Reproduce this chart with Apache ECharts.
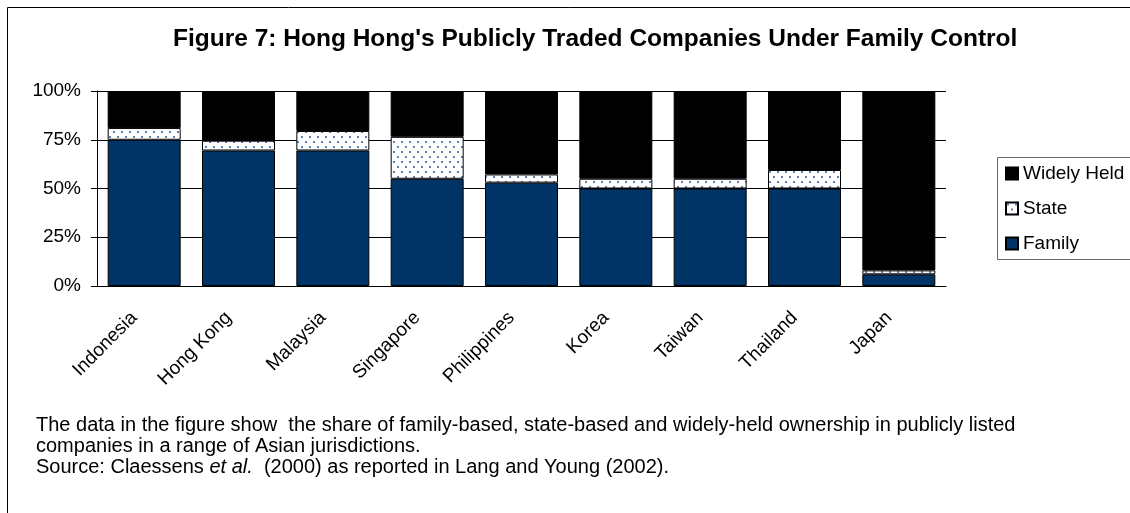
<!DOCTYPE html>
<html>
<head>
<meta charset="utf-8">
<title>Figure 7</title>
<script src="https://cdn.jsdelivr.net/npm/echarts@6/dist/echarts.min.js"></script>
<style>
  html, body { margin: 0; padding: 0; background: #fff; }
  #chart { width: 1130px; height: 513px; }
</style>
</head>
<body>
<div id="chart"></div>
<script>
// data (share of listed companies, %)
const categories = ['Indonesia', 'Hong Kong', 'Malaysia', 'Singapore', 'Philippines', 'Korea', 'Taiwan', 'Thailand', 'Japan']
const familyShare = [75, 69.5, 69.5, 55, 53, 50, 50, 50, 6]
const stateShare = [6, 5, 10, 21.5, 4.2, 5, 5, 9.5, 2]
const widelyHeldShare = [19, 25.5, 20.5, 23.5, 42.8, 45, 45, 40.5, 92]
const yTicks = [0, 25, 50, 75, 100]

const titleText = "Figure 7: Hong Hong's Publicly Traded Companies Under Family Control"
const noteLines = [
  'The data in the figure show  the share of family-based, state-based and widely-held ownership in publicly listed',
  'companies in a range of Asian jurisdictions.'
]

const FONT = '"Liberation Sans", Arial, sans-serif'

// dotted fill used for the State segments
function dotPattern() {
  const c = document.createElement('canvas')
  c.width = 8
  c.height = 10
  const ctx = c.getContext('2d')
  ctx.fillStyle = '#fff'
  ctx.fillRect(0, 0, 8, 10)
  ctx.fillStyle = '#5f82b4'
  ctx.fillRect(1, 1, 2, 2)
  ctx.fillRect(5, 6, 2, 2)
  return c
}

const chart = echarts.init(document.getElementById('chart'))

function barSeries(name, data, color) {
  return {
    name: name,
    type: 'bar',
    stack: 'total',
    barWidth: 73,
    data: data,
    itemStyle: {
      color: color,
      borderColor: '#000',
      borderWidth: 1
    },
    emphasis: { disabled: true },
    animation: false
  }
}

chart.setOption({
  animation: false,
  title: {
    text: titleText,
    left: 168,
    top: 22,
    textStyle: { fontFamily: FONT, fontSize: 24.5, fontWeight: 'bold', color: '#000' }
  },
  grid: { left: 97, right: 184, top: 91, bottom: 227 },
  legend: {
    orient: 'vertical',
    left: 1000,
    top: 159,
    itemWidth: 12,
    itemHeight: 12,
    itemGap: 16,
    icon: 'rect',
    data: ['Widely Held', 'State', 'Family'],
    textStyle: { fontFamily: FONT, fontSize: 19, color: '#000' }
  },
  xAxis: {
    type: 'category',
    data: categories,
    axisLine: { lineStyle: { color: '#000', width: 1 } },
    axisTick: { length: 6, lineStyle: { color: '#000' } },
    axisLabel: {
      rotate: 45,
      margin: 19,
      padding: [0, 14, 0, 0],
      interval: 0,
      fontFamily: FONT,
      fontSize: 19,
      color: '#000'
    }
  },
  yAxis: {
    type: 'value',
    min: yTicks[0],
    max: yTicks[yTicks.length - 1],
    interval: 25,
    axisLine: { show: true, lineStyle: { color: '#000', width: 1 } },
    axisTick: { show: true, length: 6, lineStyle: { color: '#000' } },
    axisLabel: {
      formatter: '{value}%',
      margin: 16,
      fontFamily: FONT,
      fontSize: 19,
      color: '#000'
    },
    splitLine: { lineStyle: { color: '#000', width: 1 } }
  },
  graphic: [
    {
      type: 'rect',
      shape: { x: 7.5, y: 7.5, width: 1200, height: 700 },
      style: { fill: 'none', stroke: '#000', lineWidth: 1 },
      silent: true
    },
    {
      type: 'rect',
      shape: { x: 997.5, y: 157.5, width: 200, height: 102 },
      style: { fill: 'none', stroke: '#666', lineWidth: 1 },
      silent: true
    },
    {
      type: 'text',
      left: 36,
      top: 415,
      style: {
        text: noteLines.join('\n'),
        fontFamily: FONT,
        fontSize: 20,
        lineHeight: 21,
        fill: '#000'
      }
    },
    {
      type: 'text',
      left: 36,
      top: 457,
      style: {
        text: '{n|Source: Claessens }{i|et al.}{n|  (2000) as reported in Lang and Young (2002).}',
        rich: {
          n: { fontFamily: FONT, fontSize: 20, fill: '#000' },
          i: { fontFamily: FONT, fontSize: 20, fontStyle: 'italic', fill: '#000' }
        }
      }
    }
  ],
  series: [
    barSeries('Family', familyShare, '#003366'),
    barSeries('State', stateShare, { image: dotPattern(), repeat: 'repeat' }),
    barSeries('Widely Held', widelyHeldShare, '#000')
  ]
})
</script>
</body>
</html>
